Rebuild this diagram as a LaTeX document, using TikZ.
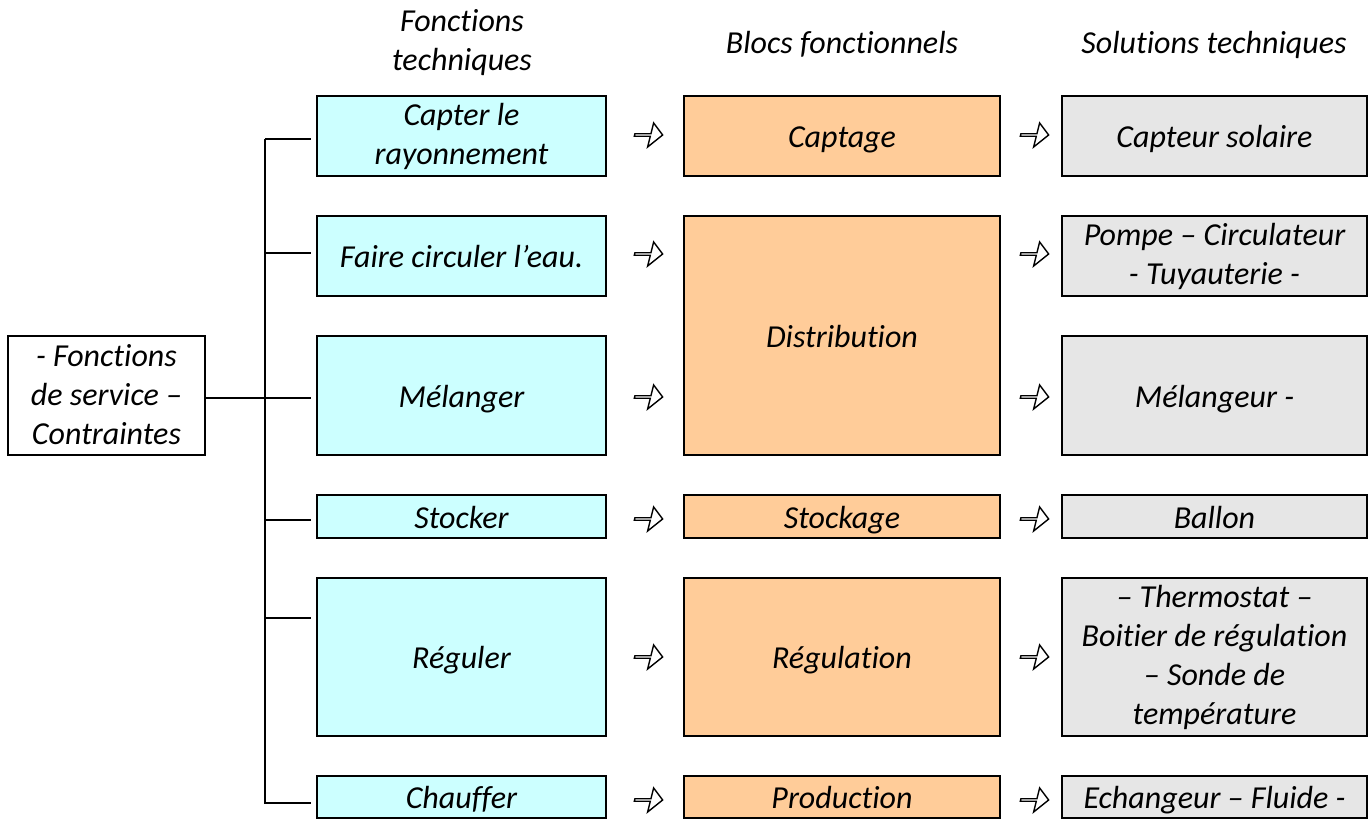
\documentclass[tikz,border=0pt]{standalone}
\usepackage{fontspec}
\setmainfont{Carlito}[Ligatures={TeX,NoCommon}]
\usetikzlibrary{shapes.arrows}
\definecolor{ftcol}{HTML}{CCFFFF}
\definecolor{bfcol}{HTML}{FFCC99}
\definecolor{stcol}{HTML}{E6E6E6}
\tikzset{
  txt/.style={font=\fontsize{16}{19.5}\selectfont\itshape, align=center, inner sep=0pt,
    execute at begin node=\strut, execute at end node=\strut},
  lab/.style={txt, yshift=-2pt},
  box/.style={draw, line width=1pt, inner sep=0pt},
  ftbox/.style={box, fill=ftcol, minimum width=144.5pt},
  bfbox/.style={box, fill=bfcol, minimum width=158pt},
  stbox/.style={box, fill=stcol, minimum width=152.5pt},
  hollow/.style={single arrow, draw, line width=0.7pt, fill=white, inner sep=0pt,
    minimum height=14pt, minimum width=12pt, single arrow head extend=3pt,
    single arrow head indent=0pt, xslant=0.25, transform shape},
  link/.style={line width=0.8pt}
}
\begin{document}
\begin{tikzpicture}[x=0.5pt,y=-0.5pt]
\useasboundingbox (0,0) rectangle (1372,819);
% headers
\node[lab] (h1) at (462,42) {Fonctions\\techniques};
\node[lab] (h2) at (842,42) {Blocs fonctionnels};
\node[lab] (h3) at (1214,42) {Solutions techniques};
% left box
\node[box, fill=white, minimum width=98.5pt, minimum height=59.5pt,
  label={[lab, yshift=-0.5pt]center:{- Fonctions\\de service –\\Contraintes}}] (L) at (106.5,395.5) {};
% column 1
\node[ftbox, minimum height=40pt, label={[lab]center:{Capter le\\rayonnement}}] (c1) at (461.5,136) {};
\node[ftbox, minimum height=40pt, label={[lab]center:{Faire circuler l’eau.}}] (c2) at (461.5,256) {};
\node[ftbox, minimum height=59.5pt, label={[lab]center:{Mélanger}}] (c3) at (461.5,395.5) {};
\node[ftbox, minimum height=21.5pt, label={[lab]center:{Stocker}}] (c4) at (461.5,516.5) {};
\node[ftbox, minimum height=79pt, label={[lab]center:{Réguler}}] (c5) at (461.5,657) {};
\node[ftbox, minimum height=21pt, label={[lab]center:{Chauffer}}] (c6) at (461.5,797) {};
% column 2
\node[bfbox, minimum height=40pt, label={[lab]center:{Captage}}] (b1) at (842,136) {};
\node[bfbox, minimum height=119.5pt, label={[lab]center:{Distribution}}] (b2) at (842,335.5) {};
\node[bfbox, minimum height=21.5pt, label={[lab]center:{Stockage}}] (b4) at (842,516.5) {};
\node[bfbox, minimum height=79pt, label={[lab]center:{Régulation}}] (b5) at (842,657) {};
\node[bfbox, minimum height=21pt, label={[lab]center:{Production}}] (b6) at (842,797) {};
% column 3
\node[stbox, minimum height=40pt, label={[lab]center:{Capteur solaire}}] (s1) at (1214.5,136) {};
\node[stbox, minimum height=40pt, label={[lab]center:{Pompe – Circulateur\\- Tuyauterie -}}] (s2) at (1214.5,256) {};
\node[stbox, minimum height=59.5pt, label={[lab]center:{Mélangeur -}}] (s3) at (1214.5,395.5) {};
\node[stbox, minimum height=21.5pt, label={[lab]center:{Ballon}}] (s4) at (1214.5,516.5) {};
\node[stbox, minimum height=79pt, label={[lab]center:{– Thermostat –\\Boitier de régulation\\– Sonde de\\température}}] (s5) at (1214.5,657) {};
\node[stbox, minimum height=21pt, label={[lab]center:{Echangeur – Fluide -}}] (s6) at (1214.5,797) {};
% hollow arrows
\foreach \n/\y in {1/135,2/254,3/397,4/519,5/657,6/800}{
  \node[hollow] (a\n) at (648,\y) {};
  \node[hollow] (r\n) at (1034,\y) {};
}
% tree connectors
\coordinate (top) at (265,139);
\coordinate (bot) at (265,804);
\coordinate (mid) at (265,398);
\coordinate (t1) at (311,139);
\coordinate (t2) at (311,253);
\coordinate (t3) at (311,398);
\coordinate (t4) at (311,520);
\coordinate (t5) at (311,618);
\coordinate (t6) at (311,803);
\draw[link] (top) -- (bot);
\draw[link] (L.east |- mid) -- (t3);
\foreach \i/\y in {1/139,2/253,4/520,5/618,6/803}{
  \draw[link] (265,\y) -- (t\i);
}
\end{tikzpicture}
\end{document}
